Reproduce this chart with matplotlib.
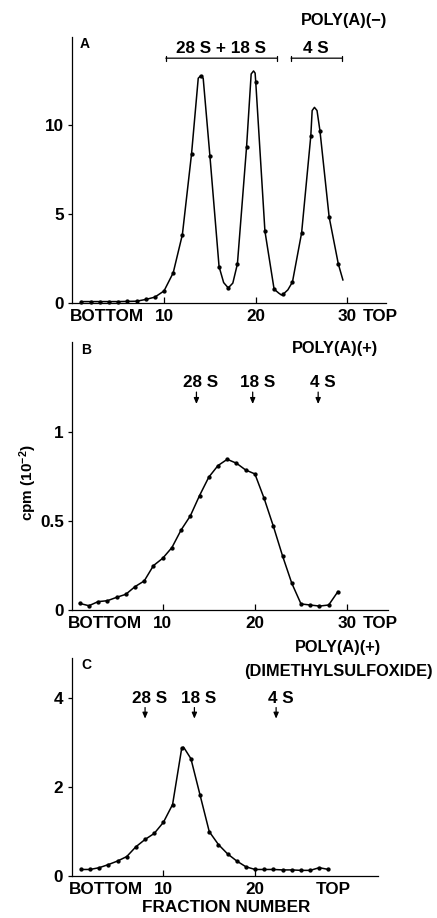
import matplotlib
matplotlib.use("Agg")
import matplotlib.pyplot as plt
import numpy as np

plt.rcParams['font.family'] = ['Liberation Sans', 'DejaVu Sans']
plt.rcParams['font.weight'] = 'bold'
plt.rcParams['mathtext.fontset'] = 'custom'
plt.rcParams['mathtext.rm'] = 'Liberation Sans:bold'
plt.rcParams['mathtext.bf'] = 'Liberation Sans:bold'
plt.rcParams['mathtext.it'] = 'Liberation Sans:bold'

# ---------------- data ----------------
fractions_a = list(range(1, 30))
cpm_a = [0.08, 0.08, 0.08, 0.08, 0.08, 0.09, 0.10, 0.20, 0.33, 0.68,
         1.70, 3.85, 8.40, 12.80, 8.30, 2.05, 0.85, 2.20, 8.80, 12.45,
         4.05, 0.78, 0.50, 1.18, 3.95, 9.40, 9.70, 4.85, 2.20]
# extra points read on the drawn curve between fractions (rounded tops, valleys, end)
curve_a_x = [13.73, 14.27, 16.5, 17.5, 19.5, 19.76, 19.93, 22.5, 22.8, 23.5,
             26.15, 26.4, 26.68, 29.5]
curve_a_y = [12.66, 12.66, 1.15, 1.12, 12.9, 13.07, 12.95, 0.56, 0.45, 0.74,
             10.84, 11.02, 10.84, 1.30]

fractions_b = list(range(1, 30))
cpm_b = [0.037, 0.024, 0.047, 0.052, 0.071, 0.088, 0.131, 0.163, 0.249, 0.290,
         0.350, 0.449, 0.528, 0.642, 0.745, 0.810, 0.845, 0.823, 0.785, 0.763,
         0.626, 0.470, 0.303, 0.150, 0.034, 0.028, 0.022, 0.028, 0.103]

fractions_c = list(range(1, 29))
cpm_c = [0.14, 0.14, 0.18, 0.25, 0.33, 0.43, 0.65, 0.815, 0.95, 1.20,
         1.60, 2.87, 2.63, 1.81, 0.99, 0.70, 0.49, 0.33, 0.20, 0.14,
         0.14, 0.14, 0.13, 0.13, 0.12, 0.12, 0.18, 0.14]
curve_c_x = [12.2]
curve_c_y = [2.89]

# marker annotations
a_bands = [("28 S + 18 S", 10.2, 22.3, 16.2), ("4 S", 23.85, 29.45, 26.56)]
b_markers = [("28 S", 13.66), ("18 S", 19.76), ("4 S", 26.86)]
c_markers = [("28 S", 8.0), ("18 S", 13.38), ("4 S", 22.29)]

yticks_a = [0, 5, 10]
yticks_b = [0, 0.5, 1]
yticklabels_b = ["0", "0.5", "1"]
yticks_c = [0, 2, 4]

FS = 12.3      # tick labels, BOTTOM/TOP
FA = 12.3      # S-value annotations
FP = 11.8      # POLY(A) titles
FL = 10        # panel letters
W, H = 437, 918

fig = plt.figure(figsize=(4.37, 9.18), dpi=100)


def add_axes(left, right, bottom, top):
    return fig.add_axes([left / W, 1 - bottom / H, (right - left) / W, (bottom - top) / H])


axA = add_axes(72.3, 386, 303, 36.7)
axB = add_axes(72.3, 387.7, 610, 342.5)
axC = add_axes(71.7, 378, 875.7, 657.7)


def style(ax, xlim, ylim, yt, ytl=None, xt=(10, 20, 30), xt_labels=None):
    ax.set_xlim(*xlim)
    ax.set_ylim(*ylim)
    for s in ['top', 'right']:
        ax.spines[s].set_visible(False)
    for s in ['left', 'bottom']:
        ax.spines[s].set_linewidth(0.9)
    ax.set_yticks(yt)
    ax.set_yticklabels(ytl if ytl else [str(v) for v in yt], fontsize=FS, fontweight='bold')
    ax.set_xticks(list(xt))
    ax.set_xticklabels(xt_labels if xt_labels else [str(v) for v in xt], fontsize=FS, fontweight='bold')
    ax.tick_params(axis='x', direction='in', length=4, width=0.9, pad=4.5)
    ax.tick_params(axis='y', direction='out', length=3, width=0.9, pad=3)
    ax.annotate("BOTTOM", xy=(3.75, 0), xycoords=('data', 'axes fraction'),
                xytext=(0, -4.5), textcoords='offset points', ha='center', va='top',
                fontsize=FS, fontweight='bold', annotation_clip=False)


def add_top(ax, x):
    ax.annotate("TOP", xy=(x, 0), xycoords=('data', 'axes fraction'),
                xytext=(0, -4.5), textcoords='offset points', ha='center', va='top',
                fontsize=FS, fontweight='bold', annotation_clip=False)


def draw(ax, fx, fy, cx=(), cy=()):
    lx = np.array(list(fx) + list(cx), dtype=float)
    ly = np.array(list(fy) + list(cy), dtype=float)
    o = np.argsort(lx)
    ax.plot(lx[o], ly[o], color='black', lw=1.1, clip_on=False, zorder=3,
            solid_joinstyle='round')
    ax.plot(fx, fy, 'o', color='black', ms=2.1, clip_on=False, zorder=4)


def arrow(ax, x, y0, y1):
    ax.annotate("", xy=(x, y1), xytext=(x, y0),
                arrowprops=dict(arrowstyle='-|>, head_length=0.35, head_width=0.15', lw=0.9,
                                color='black', shrinkA=0, shrinkB=0))


# ---------------- Panel A ----------------
style(axA, (0, 34.2), (0, 15), yticks_a)
draw(axA, fractions_a, cpm_a, curve_a_x, curve_a_y)
add_top(axA, 33.6)
axA.text(1.35, 14.6, "A", fontsize=FL, fontweight='bold', ha='center', va='center')
axA.text(29.65, 15.94, "POLY(A)(−)", fontsize=FP, fontweight='bold', ha='center', va='center',
         clip_on=False)
for label, x0, x1, xc in a_bands:
    axA.annotate("", xy=(x0, 13.79), xytext=(x1, 13.79),
                 arrowprops=dict(arrowstyle='|-|, widthA=0.18, widthB=0.18', lw=0.9,
                                 color='black', shrinkA=0, shrinkB=0))
    axA.text(xc, 14.35, label, fontsize=FA, fontweight='bold', ha='center', va='center')

# ---------------- Panel B ----------------
style(axB, (0.2, 34.4), (0, 1.5), yticks_b, yticklabels_b)
draw(axB, fractions_b, cpm_b)
add_top(axB, 33.6)
axB.text(1.65, 1.459, "B", fontsize=FL, fontweight='bold', ha='center', va='center')
axB.text(28.64, 1.464, "POLY(A)(+)", fontsize=FP, fontweight='bold', ha='center', va='center')
for label, x in b_markers:
    axB.text(x + 0.5, 1.277, label, fontsize=FA, fontweight='bold', ha='center', va='center')
    arrow(axB, x, 1.222, 1.155)
fig.text(28 / W, 1 - 483 / H, r"cpm (10$^{-2}$)", fontsize=11, fontweight='bold',
         rotation=90, ha='center', va='center')

# ---------------- Panel C ----------------
style(axC, (0, 33.4), (0, 4.9), yticks_c, xt=(10, 20), xt_labels=["10", "20"])
draw(axC, fractions_c, cpm_c, curve_c_x, curve_c_y)
add_top(axC, 28.5)
axC.text(1.59, 4.73, "C", fontsize=FL, fontweight='bold', ha='center', va='center')
axC.text(29.0, 5.12, "POLY(A)(+)", fontsize=FP, fontweight='bold', ha='center', va='center',
         clip_on=False)
axC.text(29.1, 4.58, "(DIMETHYLSULFOXIDE)", fontsize=FP, fontweight='bold', ha='center',
         va='center', clip_on=False)
for label, x in c_markers:
    axC.text(x + 0.5, 3.99, label, fontsize=FA, fontweight='bold', ha='center', va='center')
    arrow(axC, x, 3.78, 3.53)
fig.text(226 / W, 1 - 907 / H, "FRACTION NUMBER", fontsize=FS, fontweight='bold',
         ha='center', va='center')

fig.savefig("out.png", dpi=100)
